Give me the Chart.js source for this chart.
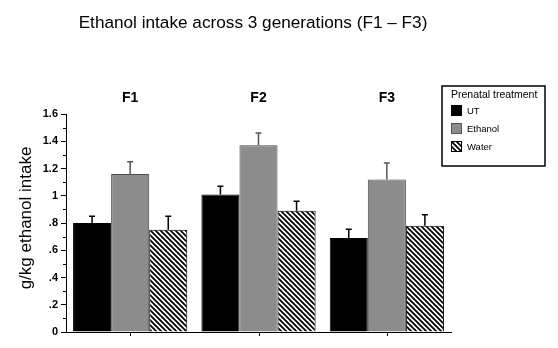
<!DOCTYPE html>
<html>
<head>
<meta charset="utf-8">
<script src="https://cdn.jsdelivr.net/npm/chart.js@4.4.0/dist/chart.umd.min.js"></script>
<style>
  html, body { margin: 0; padding: 0; background: #fff; }
  #wrap { width: 558px; height: 348px; position: relative; }
</style>
</head>
<body>
<div id="wrap"><canvas id="chart" width="558" height="348"></canvas></div>
<script>
// Data
const generations = ['F1', 'F2', 'F3'];
const treatments = ['UT', 'Ethanol', 'Water'];
const utMeans = [0.80, 1.01, 0.69];
const ethanolMeans = [1.16, 1.37, 1.12];
const waterMeans = [0.75, 0.89, 0.78];
const utErr = [0.05, 0.06, 0.065];
const ethanolErr = [0.09, 0.09, 0.12];
const waterErr = [0.10, 0.07, 0.08];
const yTicks = [0, 0.2, 0.4, 0.6, 0.8, 1.0, 1.2, 1.4, 1.6];

const FONT = '"Liberation Sans", Arial, sans-serif';

function hatchPattern() {
    const n = 5;
    const c = document.createElement('canvas');
    c.width = n; c.height = n;
    const g = c.getContext('2d');
    g.fillStyle = '#fff';
    g.fillRect(0, 0, n, n);
    g.strokeStyle = '#000';
    g.lineWidth = 1.8;
    g.beginPath();
    // "\" direction stripes
    g.moveTo(-n, -n); g.lineTo(2 * n, 2 * n);
    g.moveTo(-n, 0); g.lineTo(n, 2 * n);
    g.moveTo(0, -n); g.lineTo(2 * n, n);
    g.stroke();
    return g.createPattern(c, 'repeat');
}

const errorBars = {
    id: 'errorBars',
    afterDatasetsDraw(chart) {
        const ctx = chart.ctx;
        const y = chart.scales.y;
        const errs = [utErr, ethanolErr, waterErr];
        const colors = ['#000', '#555', '#000'];
        chart.data.datasets.forEach((ds, di) => {
            const meta = chart.getDatasetMeta(di);
            meta.data.forEach((bar, i) => {
                const top = y.getPixelForValue(ds.data[i] + errs[di][i]);
                ctx.save();
                ctx.strokeStyle = colors[di];
                ctx.lineWidth = 1.5;
                ctx.beginPath();
                ctx.moveTo(bar.x, bar.y);
                ctx.lineTo(bar.x, top);
                ctx.moveTo(bar.x - 3, top);
                ctx.lineTo(bar.x + 3, top);
                ctx.stroke();
                ctx.restore();
            });
        });
    }
};

const decorations = {
    id: 'decorations',
    afterDraw(chart) {
        const ctx = chart.ctx;
        const x = chart.scales.x;
        const y = chart.scales.y;
        ctx.save();
        // minor ticks on y axis
        ctx.strokeStyle = '#000';
        ctx.lineWidth = 1;
        for (let k = 1; k < 16; k += 2) {
            const py = Math.round(y.getPixelForValue(k / 10)) + 0.5;
            ctx.beginPath();
            ctx.moveTo(x.left - 3, py);
            ctx.lineTo(x.left, py);
            ctx.stroke();
        }
        // x tick marks at group centres
        generations.forEach((_, i) => {
            const px = Math.round(x.getPixelForValue(i)) + 0.5;
            ctx.beginPath();
            ctx.moveTo(px, y.bottom);
            ctx.lineTo(px, y.bottom + 4);
            ctx.stroke();
        });
        // title
        ctx.fillStyle = '#000';
        ctx.textAlign = 'center';
        ctx.textBaseline = 'alphabetic';
        ctx.font = '17.2px ' + FONT;
        ctx.fillText('Ethanol intake across 3 generations (F1 \u2013 F3)', 253, 28);
        // generation labels above groups
        ctx.font = 'bold 14px ' + FONT;
        generations.forEach((g, i) => {
            ctx.fillText(g, x.getPixelForValue(i), 102);
        });
        // y axis title
        ctx.save();
        ctx.translate(31, 218);
        ctx.rotate(-Math.PI / 2);
        ctx.font = '17px ' + FONT;
        ctx.fillText('g/kg ethanol intake', 0, 0);
        ctx.restore();
        // legend box
        ctx.lineWidth = 1.5;
        ctx.strokeRect(442, 86, 103, 80);
        ctx.textAlign = 'left';
        ctx.font = '10.5px ' + FONT;
        ctx.fillText('Prenatal treatment', 451, 98);
        const swatches = ['#000', '#8c8c8c', hatchPattern()];
        const borders = ['#000', '#555', '#000'];
        treatments.forEach((t, i) => {
            const sy = 105 + i * 18;
            ctx.fillStyle = swatches[i];
            ctx.fillRect(451, sy, 11, 11);
            ctx.strokeStyle = borders[i];
            ctx.lineWidth = 1;
            ctx.strokeRect(451.5, sy + 0.5, 10, 10);
            ctx.fillStyle = '#000';
            ctx.font = '9.5px ' + FONT;
            ctx.fillText(t, 467, sy + 9);
        });
        ctx.restore();
    }
};

new Chart(document.getElementById('chart'), {
    type: 'bar',
    data: {
        labels: generations,
        datasets: [
            { label: treatments[0], data: utMeans, backgroundColor: '#000', borderColor: '#000', borderWidth: 1 },
            { label: treatments[1], data: ethanolMeans, backgroundColor: '#8c8c8c', borderColor: '#4a4a4a', borderWidth: 1 },
            { label: treatments[2], data: waterMeans, backgroundColor: hatchPattern(), borderColor: '#000', borderWidth: 1 },
        ],
    },
    options: {
        responsive: false,
        animation: false,
        devicePixelRatio: 1,
        layout: { padding: { top: 114, right: 107, left: 0, bottom: 0 } },
        datasets: { bar: { categoryPercentage: 0.89, barPercentage: 1.0 } },
        plugins: { legend: { display: false }, tooltip: { enabled: false }, title: { display: false } },
        scales: {
            x: {
                afterFit: (s) => { s.height = 16; },
                grid: { display: false },
                border: { display: true, color: '#000', width: 1 },
                ticks: { display: false },
            },
            y: {
                min: 0,
                max: 1.6,
                afterFit: (s) => { s.width = 66; },
                afterBuildTicks: (s) => { s.ticks = yTicks.map((v) => ({ value: v })); },
                grid: { drawOnChartArea: false, drawTicks: true, tickLength: 5, color: '#000' },
                border: { display: true, color: '#000', width: 1 },
                ticks: {
                    padding: 3,
                    color: '#000',
                    font: { family: FONT, size: 11, weight: 'bold' },
                    callback: (v) => v === 0 ? '0' : (v < 1 ? String(+v.toFixed(1)).replace(/^0/, '') : String(+v.toFixed(1))),
                },
            },
        },
    },
    plugins: [errorBars, decorations],
});
</script>
</body>
</html>
